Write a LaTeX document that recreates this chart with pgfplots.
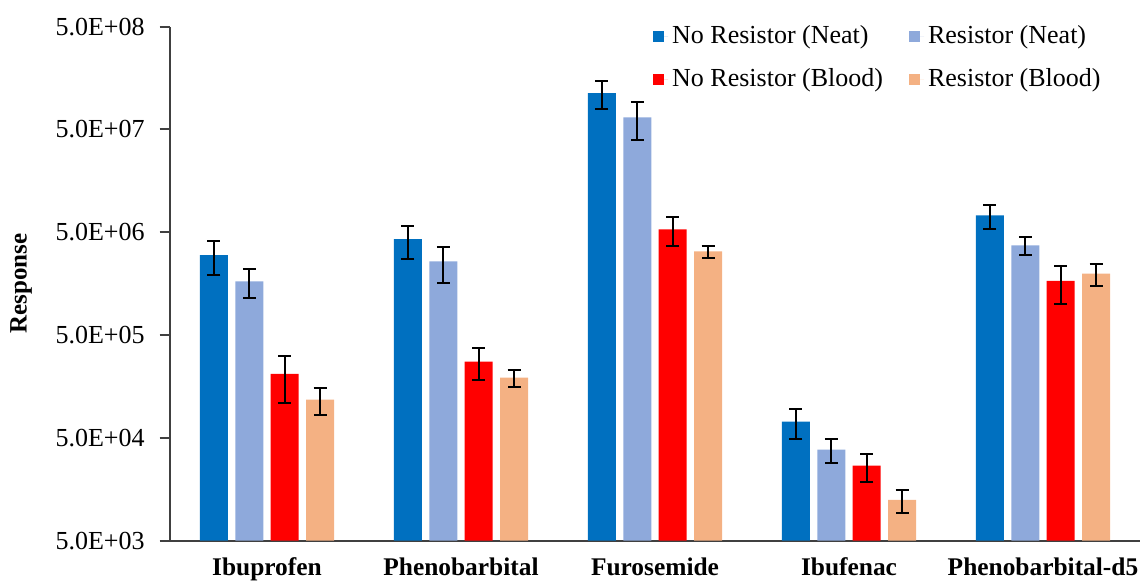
\documentclass[border=0pt]{standalone}
\usepackage{fontspec}
\setmainfont{Liberation Serif}
\usepackage{pgfplots}
\pgfplotsset{compat=1.18}
\usepackage{pgfplotstable}

\definecolor{noresneat}{HTML}{0070C0}
\definecolor{resneat}{HTML}{8EA9DB}
\definecolor{noresblood}{HTML}{FF0000}
\definecolor{resblood}{HTML}{F4B183}
\definecolor{axisgray}{HTML}{404040}

% mean response and standard deviation per analyte (x = analyte index)
\pgfplotstableread{
x v e
0 3.00e6 1.10e6
1 4.28e6 1.50e6
2 1.13e8 3.40e7
3 7.20e4 2.30e4
4 7.30e6 1.97e6
}\noResNeat
\pgfplotstableread{
x v e
0 1.67e6 0.52e6
1 2.61e6 1.00e6
2 6.57e7 2.65e7
3 3.84e4 1.00e4
4 3.74e6 0.76e6
}\resNeat
\pgfplotstableread{
x v e
0 2.10e5 1.00e5
1 2.76e5 0.95e5
2 5.35e6 1.70e6
3 2.68e4 0.80e4
4 1.68e6 0.67e6
}\noResBlood
\pgfplotstableread{
x v e
0 1.18e5 0.34e5
1 1.93e5 0.37e5
2 3.27e6 0.45e6
3 1.25e4 0.32e4
4 1.98e6 0.48e6
}\resBlood

% square legend swatch with a little room before the text
\pgfplotsset{
  swatch/.style={legend image code/.code={
    \fill[#1] (0pt,-2.75pt) rectangle (5.5pt,2.75pt);
    \path (0pt,0pt) -- (7.5pt,0pt);}},
}
% value label followed by its outward tick mark, ending on the axis line
\newcommand\tk[1]{#1\hspace{7.5pt}\textcolor{axisgray}{\rule[3.8pt]{5pt}{1pt}}}

\begin{document}
\begin{tikzpicture}
\path[use as bounding box] (-85pt,-19.65pt) rectangle (486.5pt,270.35pt);
\begin{axis}[
  at={(0,0)}, anchor=south west,
  scale only axis, width=485pt, height=257pt,
  clip=false,
  ymode=log, log origin=infty,
  ymin=5e3, ymax=5e8,
  xmin=-0.5, xmax=4.5,
  ybar=3.67pt, bar width=14pt,
  xtick={0,1,2,3,4},
  xticklabels={Ibuprofen,Phenobarbital,Furosemide,Ibufenac,Phenobarbital-d5},
  xticklabel style={font=\fontsize{12.7}{15}\selectfont\bfseries, yshift=-5pt},
  ytick={5e3,5e4,5e5,5e6,5e7,5e8},
  yticklabels={\tk{5.0E+03},\tk{5.0E+04},\tk{5.0E+05},\tk{5.0E+06},\tk{5.0E+07},\tk{5.0E+08}},
  yticklabel style={font=\fontsize{13}{15}\selectfont, inner sep=0pt, anchor=east},
  yminorticks=false,
  axis lines=left,
  axis line style={-, line width=1pt, axisgray},
  tick align=inside,
  major tick length=0pt,
  x tick style={draw=none},
  ylabel={Response},
  ylabel style={font=\fontsize{12.5}{14}\selectfont\bfseries,
    at={(axis description cs:0,0.5)}, anchor=center, yshift=74.5pt},
  error bars/y dir=both,
  error bars/y explicit,
  error bars/error bar style={line width=1pt, black},
  error bars/error mark options={rotate=90, mark size=3.25pt, line width=1pt, black},
  legend columns=2,
  legend cell align=left,
  legend style={draw=none, fill=none,
    at={(axis description cs:0.4915,1.018)}, anchor=north west,
    font=\fontsize{13}{15}\selectfont, row sep=7pt,
    /tikz/every even column/.append style={column sep=11pt}},
]
\addplot[fill=noresneat, draw=none, swatch=noresneat]
  table[x=x, y=v, y error=e]{\noResNeat};
\addplot[fill=resneat, draw=none, swatch=resneat]
  table[x=x, y=v, y error=e]{\resNeat};
\addplot[fill=noresblood, draw=none, swatch=noresblood]
  table[x=x, y=v, y error=e]{\noResBlood};
\addplot[fill=resblood, draw=none, swatch=resblood]
  table[x=x, y=v, y error=e]{\resBlood};
\legend{No Resistor (Neat),Resistor (Neat),No Resistor (Blood),Resistor (Blood)}
\end{axis}
\end{tikzpicture}
\end{document}
